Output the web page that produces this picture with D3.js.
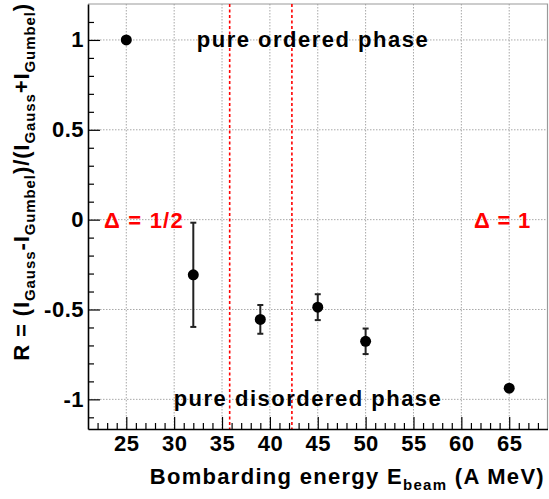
<!DOCTYPE html>
<html>
<head>
<meta charset="utf-8">
<script src="https://cdn.jsdelivr.net/npm/d3@7"></script>
<style>
  html, body { margin: 0; padding: 0; background: #fff; }
  text { font-family: "Liberation Sans", Arial, Helvetica, sans-serif; font-weight: bold; }
</style>
</head>
<body>
<svg id="chart" width="549" height="499"></svg>
<script>
// ---- data ----
const energies = [25, 32, 39, 45, 50, 65];
const ratios   = [1.0, -0.307, -0.555, -0.487, -0.677, -0.938];
const errors   = [0, 0.29, 0.08, 0.072, 0.071, 0];
const transitions = [35.8, 42.3];
const xTicks = [25, 30, 35, 40, 45, 50, 55, 60, 65];
const yTicks = [-1, -0.5, 0, 0.5, 1];
const yTickLabels = ["-1", "-0.5", "0", "0.5", "1"];
const xDomain = [21, 69];
const yDomain = [-1.165, 1.2];

// ---- layout ----
const svg = d3.select("#chart");
const L = 88, R = 547.5, T = 4, B = 429;
const x = d3.scaleLinear().domain(xDomain).range([L, R]);
const y = d3.scaleLinear().domain(yDomain).range([B, T]);

// grid
const grid = svg.append("g").attr("stroke", "#a8a8a8").attr("stroke-width", 1).attr("stroke-dasharray", "1.5,1.5");
grid.selectAll("line.gx").data(xTicks).enter().append("line")
  .attr("x1", d => x(d)).attr("x2", d => x(d)).attr("y1", T).attr("y2", B);
grid.selectAll("line.gy").data(yTicks).enter().append("line")
  .attr("x1", L).attr("x2", R).attr("y1", d => y(d)).attr("y2", d => y(d));

// frame top/right
svg.append("path").attr("d", `M${L},${T}H${R}V${B}`).attr("fill", "none")
  .attr("stroke", "#999").attr("stroke-width", 1.2);

// red dashed transition lines
svg.append("g").selectAll("line").data(transitions).enter().append("line")
  .attr("x1", d => x(d)).attr("x2", d => x(d)).attr("y1", T).attr("y2", B)
  .attr("stroke", "#ff0000").attr("stroke-width", 1.6).attr("stroke-dasharray", "3,2.5");

// minor ticks
const xMinor = d3.range(22, 69, 1).filter(v => v % 5 !== 0);
const yMinor = d3.range(-11, 12, 1).map(v => v / 10).filter(v => Math.abs(v * 10) % 5 !== 0);
svg.append("g").attr("transform", `translate(0,${B})`)
  .call(d3.axisBottom(x).tickValues(xMinor).tickSize(-6).tickFormat(""))
  .call(g => g.select(".domain").remove())
  .selectAll("line").attr("stroke", "#000").attr("stroke-width", 1.2);
svg.append("g").attr("transform", `translate(${L},0)`)
  .call(d3.axisLeft(y).tickValues(yMinor).tickSize(-6).tickFormat(""))
  .call(g => g.select(".domain").remove())
  .selectAll("line").attr("stroke", "#000").attr("stroke-width", 1.2);

// major axes
const xAxis = svg.append("g").attr("transform", `translate(0,${B})`)
  .call(d3.axisBottom(x).tickValues(xTicks).tickSize(-12).tickSizeOuter(0).tickPadding(6).tickFormat(d3.format("d")));
xAxis.select(".domain").attr("stroke", "#000").attr("stroke-width", 1.6);
xAxis.selectAll("line").attr("stroke", "#000").attr("stroke-width", 1.2);
xAxis.selectAll("text").attr("font-size", 22).attr("fill", "#000").attr("letter-spacing", 0.5)
  .attr("font-family", '"Liberation Sans", Arial, sans-serif').attr("font-weight", "bold");

const yAxis = svg.append("g").attr("transform", `translate(${L},0)`)
  .call(d3.axisLeft(y).tickValues(yTicks).tickSize(-12).tickSizeOuter(0).tickPadding(4)
    .tickFormat((d, i) => yTickLabels[i]));
yAxis.select(".domain").attr("stroke", "#000").attr("stroke-width", 1.6);
yAxis.selectAll("line").attr("stroke", "#000").attr("stroke-width", 1.2);
yAxis.selectAll("text").attr("font-size", 22).attr("fill", "#000").attr("letter-spacing", 0.5)
  .attr("font-family", '"Liberation Sans", Arial, sans-serif').attr("font-weight", "bold");

// error bars
const pts = energies.map((e, i) => ({ e, r: ratios[i], err: errors[i] }));
const eb = svg.append("g").attr("stroke", "#222").attr("stroke-width", 2);
pts.filter(p => p.err > 0).forEach(p => {
  eb.append("line").attr("x1", x(p.e)).attr("x2", x(p.e)).attr("y1", y(p.r + p.err)).attr("y2", y(p.r - p.err));
  [p.r + p.err, p.r - p.err].forEach(v => {
    eb.append("line").attr("x1", x(p.e) - 3).attr("x2", x(p.e) + 3).attr("y1", y(v)).attr("y2", y(v));
  });
});
// markers
svg.append("g").selectAll("circle").data(pts).enter().append("circle")
  .attr("cx", d => x(d.e)).attr("cy", d => y(d.r)).attr("r", 5.5).attr("fill", "#000");

// annotations
svg.append("text").attr("x", 313).attr("y", y(1) + 7).attr("text-anchor", "middle")
  .attr("font-size", 22).attr("letter-spacing", 1.5).attr("fill", "#000").text("pure ordered phase");
svg.append("text").attr("x", 308).attr("y", y(-1) + 7).attr("text-anchor", "middle")
  .attr("font-size", 22).attr("letter-spacing", 1.5).attr("fill", "#000").text("pure disordered phase");
svg.append("text").attr("x", 104).attr("y", y(0) + 8).attr("text-anchor", "start")
  .attr("font-size", 22).attr("letter-spacing", 1.2).attr("fill", "#ff0000").text("Δ = 1/2");
svg.append("text").attr("x", 531).attr("y", y(0) + 8).attr("text-anchor", "end")
  .attr("font-size", 22).attr("letter-spacing", 0.8).attr("fill", "#ff0000").text("Δ = 1");

// x axis title
const xt = svg.append("text").attr("x", 545).attr("y", 484).attr("text-anchor", "end")
  .attr("font-size", 22).attr("letter-spacing", 1.3).attr("fill", "#000");
xt.append("tspan").text("Bombarding energy E");
xt.append("tspan").attr("font-size", 15).attr("dy", 6).text("beam");
xt.append("tspan").attr("dy", -6).text(" (A MeV)");

// y axis title
const yt = svg.append("text").attr("transform", "translate(29,3) rotate(-90)").attr("text-anchor", "end")
  .attr("font-size", 22).attr("letter-spacing", 0.9).attr("fill", "#000");
yt.append("tspan").text("R = (I");
yt.append("tspan").attr("font-size", 15).attr("dy", 6).text("Gauss");
yt.append("tspan").attr("dy", -6).text("-I");
yt.append("tspan").attr("font-size", 15).attr("dy", 6).text("Gumbel");
yt.append("tspan").attr("dy", -6).text(")/(I");
yt.append("tspan").attr("font-size", 15).attr("dy", 6).text("Gauss");
yt.append("tspan").attr("dy", -6).text("+I");
yt.append("tspan").attr("font-size", 15).attr("dy", 6).text("Gumbel");
yt.append("tspan").attr("dy", -6).text(")");
</script>
</body>
</html>
